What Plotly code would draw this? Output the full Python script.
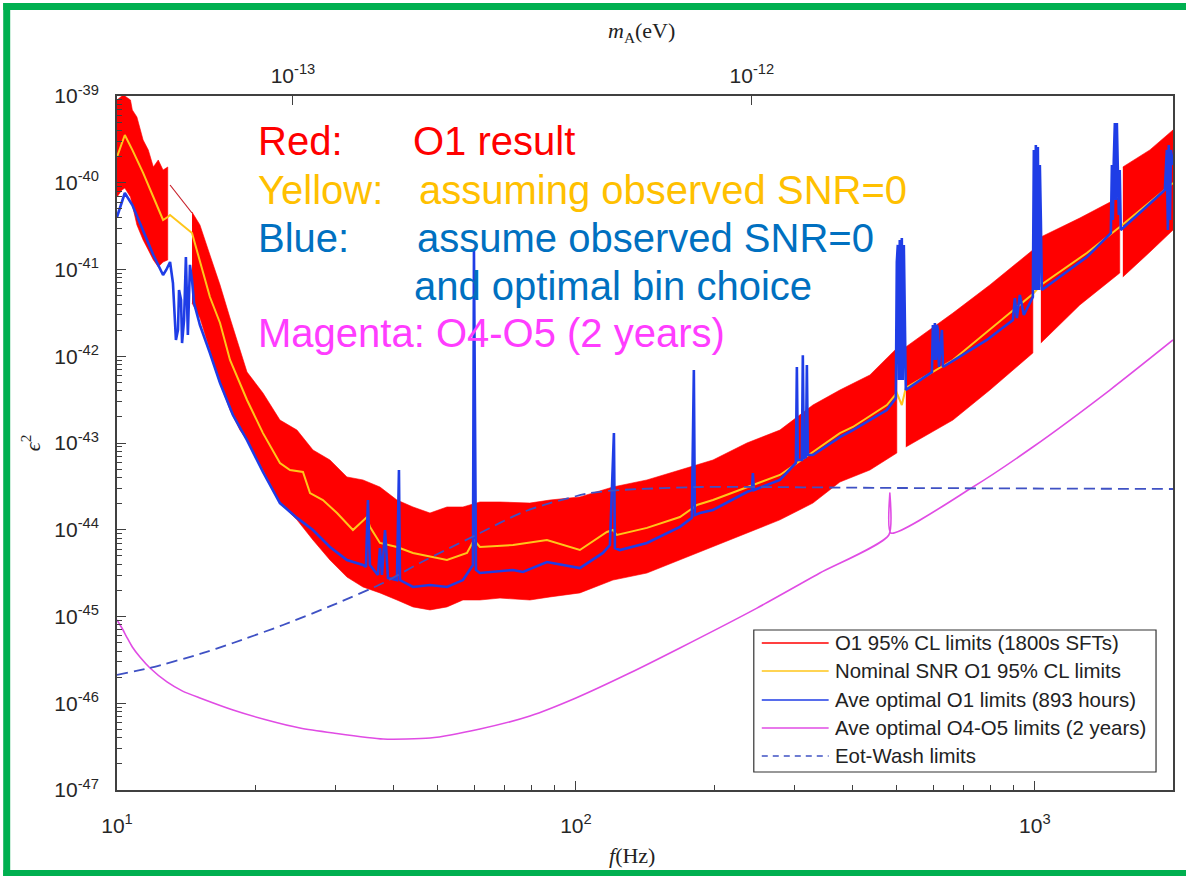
import math
import plotly.graph_objects as go

# ---------------- data ----------------
# Red band: O1 95% CL limits (1800s SFTs) - upper / lower envelope, None separates data segments
red_f = [10.0, 10.25, 10.4, 10.7, 10.8, 11.05, 11.4, 11.7, 12.0, 12.3, 12.6, 12.9, None,
         14.57, 15.16, 15.94, 16.77, 17.63, 18.53, 19.20, 20.80, 22.65, 24.67, 26.73, 29.11,
         31.70, 34.35, 37.41, 40.74, 44.15, 48.08, 52.36, 56.74, 61.78, 68.31, 79.37, 87.78,
         102.0, 120.4, 142.8, 168.5, 198.9, 235.8, 278.3, 328.4, 376.0, 437.1, 500.3, None,
         523.4, 663.0, 797.9, 990.0, None,
         1030.6, 1253, 1531, None,
         1555, 1781, 2000]
red_upper = [9.0e-40, 1.0e-39, 1.0e-39, 9.0e-40, 6.9e-40, 5.73e-40, 3.11e-40, 2.39e-40, 1.52e-40, 1.83e-40, 1.40e-40, 1.52e-40, None,
             4.60e-41, 3.26e-41, 1.47e-41, 6.63e-42, 2.76e-42, 1.24e-42, 6.58e-43, 3.77e-43, 1.84e-43, 1.41e-43, 8.31e-44, 6.37e-44,
             4.06e-44, 3.75e-44, 3.11e-44, 2.20e-44, 1.83e-44, 1.56e-44, 1.83e-44, 1.83e-44, 2.09e-44, 2.09e-44, 2.03e-44, 2.20e-44,
             2.39e-44, 3.11e-44, 3.75e-44, 4.88e-44, 6.37e-44, 1.0e-43, 1.41e-43, 2.74e-43, 4.08e-43, 6.08e-43, 1.24e-42, None,
             1.28e-42, 3.15e-42, 6.63e-42, 1.68e-41, None,
             2.37e-41, 3.92e-41, 6.85e-41, None,
             1.52e-40, 2.39e-40, 4.06e-40]
red_lower = [6.85e-41, 8.25e-41, 8.70e-41, 6.85e-41, 5.25e-41, 3.26e-41, 2.19e-41, 1.68e-41, 1.29e-41, 1.07e-41, 1.22e-41, 1.29e-41, None,
             4.11e-42, 2.76e-42, 1.18e-42, 4.92e-43, 2.40e-43, 1.41e-43, 1.08e-43, 4.88e-44, 2.03e-44, 1.30e-44, 7.62e-45, 4.48e-45,
             2.85e-45, 2.19e-45, 1.87e-45, 1.55e-45, 1.29e-45, 1.19e-45, 1.29e-45, 1.55e-45, 1.55e-45, 1.63e-45, 1.55e-45, 1.68e-45,
             1.87e-45, 2.63e-45, 3.17e-45, 4.48e-45, 6.33e-45, 9.17e-45, 1.30e-44, 2.03e-44, 3.55e-44, 4.88e-44, 7.67e-44, None,
             8.99e-44, 1.84e-43, 4.08e-43, 1.09e-42, None,
             1.42e-42, 3.90e-42, 9.11e-42, None,
             8.20e-42, 1.59e-41, 2.85e-41]
# thin red line bridging the 13-14.6 Hz data gap
red_bridge_f = [13.05, 14.57]
red_bridge_v = [9.42e-41, 4.48e-41]

# Yellow: Nominal SNR O1 95% CL limits
yellow_f = [10.0, 10.4, 10.8, 11.4, 12.0, 12.6, 12.9, 13.05, 14.57, 15.16, 15.94, 16.77, 17.63, 19.20,
            20.80, 22.65, 23.82, 25.42, 26.34, 28.1, 30.16, 32.67, 35.04, 35.57, 37.41, 40.74, 44.15,
            52.36, 57.89, 59.95, 61.78, 72.92, 86.46, 102.0, 116.8, 120.4, 122.8, 142.8, 168.5, 179.8,
            183.5, 198.9, 235.8, 278.3, 328.4, 376.0, 401.3, 475.9, 500.3, 513.0, 523.4, 663.0, 990.0,
            1030.6, 1298, 1531, 2000]
yellow_v = [1.98e-40, 3.55e-40, 2.39e-40, 1.30e-40, 6.85e-41, 3.72e-41, 4.03e-41, 4.25e-41, 2.63e-41, 1.22e-41,
            4.82e-42, 2.42e-42, 9.05e-43, 3.13e-43, 1.30e-43, 5.88e-44, 4.88e-44, 4.63e-44, 2.65e-44, 2.20e-44,
            1.56e-44, 9.93e-45, 1.40e-44, 1.08e-44, 7.04e-45, 6.33e-45, 5.40e-45, 4.48e-45, 5.40e-45, 7.62e-45,
            6.33e-45, 6.67e-45, 7.62e-45, 5.84e-45, 9.42e-45, 9.93e-45, 8.70e-45, 1.05e-44, 1.40e-44, 1.78e-44,
            1.93e-44, 2.20e-44, 3.11e-44, 4.28e-44, 7.88e-44, 1.30e-43, 1.53e-43, 2.74e-43, 3.77e-43, 2.74e-43,
            4.31e-43, 9.05e-43, 5.22e-42, 6.63e-42, 1.55e-41, 3.09e-41, 9.93e-41]

# Blue: Ave optimal O1 limits (893 hours) - (frequency Hz, eps^2)
blue_points = [
    (10.0, 4.03e-41), (10.4, 7.62e-41), (10.8, 5.54e-41), (11.4, 2.85e-41), (12.0, 1.47e-41),
    (12.6, 8.64e-42), (12.8, 9.87e-42), (13.05, 1.22e-41), (13.24, 6.99e-42), (13.44, 1.54e-42),
    (13.58, 2.01e-42), (13.65, 5.80e-42), (13.79, 4.45e-42), (13.86, 1.42e-42), (14.0, 2.62e-42),
    (14.13, 1.39e-41), (14.2, 5.80e-42), (14.27, 1.76e-42), (14.42, 1.13e-41), (14.57, 7.57e-42),
    (14.72, 4.11e-42), (15.16, 2.29e-42), (15.94, 1.09e-42), (16.77, 4.92e-43), (17.89, 2.10e-43),
    (19.20, 1.08e-43), (20.80, 4.63e-44), (22.65, 2.03e-44), (24.67, 1.37e-44), (26.73, 9.93e-45),
    (29.11, 6.33e-45), (31.70, 4.48e-45), (34.35, 3.92e-45), (34.87, 3.72e-45), (35.22, 2.20e-44),
    (35.57, 3.92e-45), (37.03, 3.01e-45), (37.41, 6.16e-45), (37.79, 3.01e-45), (38.37, 9.93e-45),
    (38.95, 2.78e-45), (40.74, 2.63e-45), (41.15, 4.88e-44), (41.36, 2.63e-45), (44.15, 2.19e-45),
    (48.08, 2.31e-45), (52.36, 2.19e-45), (56.74, 2.63e-45), (59.65, 3.92e-45), (59.95, 1.68e-41),
    (60.56, 3.44e-45), (61.78, 3.17e-45), (72.92, 3.44e-45), (76.66, 3.26e-45), (86.46, 4.25e-45),
    (102.0, 3.62e-45), (114.5, 5.40e-45), (118.6, 6.67e-45), (121.0, 1.30e-43), (121.6, 6.16e-45),
    (124.7, 5.84e-45), (142.8, 7.04e-45), (168.5, 1.08e-44), (178.9, 1.37e-44), (180.7, 6.94e-43),
    (181.6, 1.48e-44), (186.3, 1.56e-44), (198.9, 1.69e-44), (235.8, 2.72e-44), (241.8, 2.87e-44),
    (243.0, 4.51e-44), (244.2, 2.87e-44), (278.3, 3.75e-44), (301.5, 5.88e-44), (303.0, 7.52e-43),
    (304.5, 6.37e-44), (310.7, 6.37e-44), (312.2, 1.03e-42), (313.8, 6.71e-44), (317.0, 6.90e-44),
    (318.6, 7.93e-43), (320.2, 7.27e-44), (328.4, 7.27e-44), (376.0, 1.17e-43), (401.3, 1.41e-43),
    (475.9, 2.40e-43), (497.8, 3.30e-43),
    (500.3, 1.22e-41), (502.8, 1.92e-41), (505.3, 5.32e-43), (507.8, 2.19e-41), (510.4, 5.32e-43),
    (513.0, 2.31e-41), (515.6, 5.32e-43), (518.2, 1.92e-41), (520.8, 4.69e-42), (523.4, 4.08e-43),
    (596.6, 6.58e-43), (599.6, 2.29e-42), (602.6, 9.05e-43), (605.6, 2.42e-42), (608.7, 9.05e-43),
    (611.8, 2.29e-42), (614.9, 2.01e-42), (618.0, 7.52e-43), (627.4, 2.01e-42), (630.6, 7.52e-43),
    (786.0, 1.54e-42), (895.6, 2.62e-42), (904.6, 4.69e-42), (913.7, 2.76e-42), (927.5, 5.08e-42),
    (946.3, 2.99e-42), (990.0, 4.82e-42),
    (995.0, 2.39e-40), (1000, 5.80e-42), (1005.0, 2.72e-40), (1010.1, 5.80e-42), (1015.2, 2.58e-40),
    (1020.3, 5.80e-42), (1025.4, 1.60e-40), (1030.6, 3.72e-41), (1035.8, 5.80e-42), (1298, 1.39e-41),
    (1457, 2.50e-41), (1464, 2.63e-41), (1472, 1.60e-40), (1479, 3.72e-41), (1486, 1.83e-40),
    (1494, 4.88e-40), (1501, 6.33e-41), (1509, 4.88e-40), (1516, 1.52e-40), (1524, 4.25e-41),
    (1531, 1.40e-40), (1539, 2.85e-41), (1920, 8.25e-41),
    (1939, 2.39e-40), (1949, 2.85e-41), (1958, 2.72e-40), (1969, 3.72e-41), (1979, 2.39e-40),
    (2000, 1.60e-40)]

# Magenta: Ave optimal O4-O5 limits (2 years)
magenta_f = [10.0, 10.25, 10.5, 10.8, 11.22, 11.8, 12.85, 13.9, 15.16, 17.9, 21.2, 25.04, 29.6, 38.0,
             48.1, 61.8, 79.4, 100, 131, 168.5, 248, 340, 480.7, 483.1, 485.5, 733, 990, 1457, 2000]
magenta_v = [9.11e-46, 7.37e-46, 5.80e-46, 4.45e-46, 3.41e-46, 2.55e-46, 1.76e-46, 1.38e-46, 1.15e-46,
             8.36e-47, 6.41e-47, 5.18e-47, 4.54e-47, 3.87e-47, 3.97e-47, 5.05e-47, 7.13e-47, 1.15e-46,
             2.23e-46, 4.34e-46, 1.25e-45, 3.17e-45, 8.70e-45, 2.65e-44, 9.17e-45, 3.11e-44, 8.99e-44,
             4.08e-43, 1.54e-42]

# Dashed: Eot-Wash limits
eot_f = [10.0, 11.8, 15.16, 17.9, 23.0, 29.6, 38.0, 45.7, 61.8, 68.3, 76.7, 87.8, 107.3, 124.7, 186.3,
         502.8, 2000]
eot_v = [2.12e-46, 2.55e-46, 3.70e-46, 4.95e-46, 7.98e-46, 1.36e-45, 2.43e-45, 4.14e-45, 9.17e-45,
         1.20e-44, 1.60e-44, 2.03e-44, 2.65e-44, 2.87e-44, 3.11e-44, 3.03e-44, 2.95e-44]

# Axes / ticks
x_range_hz = [10, 2000]
x_tick_exp = [1, 2, 3]
y_tick_exp = [-47, -46, -45, -44, -43, -42, -41, -40, -39]
top_tick_exp = [-13, -12]
H_EV = 4.135667e-15  # eV per Hz  (m_A = h f)

legend_labels = ["O1 95% CL limits (1800s SFTs)", "Nominal SNR O1 95% CL limits",
                 "Ave optimal O1 limits (893 hours)", "Ave optimal O4-O5 limits (2 years)",
                 "Eot-Wash limits"]

# ---------------- styling ----------------
W_FIG, H_FIG = 1186, 876
ML, MR, MT, MB = 117, 11, 96, 86
PW = W_FIG - ML - MR
PH = H_FIG - MT - MB

def px(x):
    return (x - ML) / PW

def py(y):
    return (H_FIG - MB - y) / PH

C_RED = "#ff0000"
C_YEL = "#ffc61a"
C_BLUE = "#1f3de6"
C_MAG = "#e04ce4"
C_EOT = "#3f51c4"
AX = "#404040"
SANS = "Liberation Sans, Arial, Helvetica, sans-serif"
SERIF = "Liberation Serif, Times New Roman, DejaVu Serif, serif"

# ---------------- build traces ----------------
def split_segments(xs, ys_list):
    segs, cur = [], []
    for i, x in enumerate(xs):
        if x is None:
            if cur:
                segs.append(cur)
            cur = []
        else:
            cur.append([x] + [ys[i] for ys in ys_list])
    if cur:
        segs.append(cur)
    return segs

poly_x, poly_y = [], []
for seg in split_segments(red_f, [red_upper, red_lower]):
    fs = [p[0] for p in seg]
    up = [p[1] for p in seg]
    lo = [p[2] for p in seg]
    poly_x += fs + fs[::-1] + [None]
    poly_y += up + lo[::-1] + [None]

fig = go.Figure()
fig.add_trace(go.Scatter(x=poly_x, y=poly_y, mode="lines", fill="toself", fillcolor=C_RED,
                         line=dict(color=C_RED, width=0.6), hoverinfo="skip", showlegend=False))
fig.add_trace(go.Scatter(x=red_bridge_f, y=red_bridge_v, mode="lines",
                         line=dict(color="#c8202a", width=1.2), hoverinfo="skip", showlegend=False))
fig.add_trace(go.Scatter(x=yellow_f, y=yellow_v, mode="lines",
                         line=dict(color=C_YEL, width=2), showlegend=False))
fig.add_trace(go.Scatter(x=[p[0] for p in blue_points], y=[p[1] for p in blue_points], mode="lines",
                         line=dict(color=C_BLUE, width=2.6), showlegend=False))
fig.add_trace(go.Scatter(x=magenta_f, y=magenta_v, mode="lines", line_shape="spline",
                         line=dict(color=C_MAG, width=1.6, smoothing=0.6), showlegend=False))
fig.add_trace(go.Scatter(x=eot_f, y=eot_v, mode="lines", line_shape="spline",
                         line=dict(color=C_EOT, width=1.8, dash="11px,6px", smoothing=0.6), showlegend=False))
# invisible trace that carries the top (mass) axis
fig.add_trace(go.Scatter(x=[f * H_EV for f in x_range_hz], y=[1e-47, 1e-47], xaxis="x2",
                         mode="markers", marker=dict(opacity=0), hoverinfo="skip", showlegend=False))

tickfont = dict(family=SANS, size=21, color="#262626")
x_minor = [m * 10 ** e for e in (1, 2) for m in range(2, 10)] + [2000]
y_minor = [m * 10.0 ** e for e in range(-47, -39) for m in range(2, 10)]

fig.update_layout(
    width=W_FIG, height=H_FIG,
    margin=dict(l=ML, r=MR, t=MT, b=MB),
    paper_bgcolor="white", plot_bgcolor="white",
    showlegend=False,
    xaxis=dict(type="log", range=[math.log10(x_range_hz[0]), math.log10(x_range_hz[1])],
               tickmode="array", tickvals=[10 ** e for e in x_tick_exp],
               ticktext=[f"10<sup>{e}</sup>" for e in x_tick_exp],
               ticks="inside", ticklen=9, tickwidth=1.2, tickcolor=AX,
               showline=True, linecolor=AX, linewidth=1.6, mirror=True,
               showgrid=False, zeroline=False, tickfont=tickfont, ticklabelstandoff=16,
               minor=dict(tickvals=x_minor, ticks="inside", ticklen=5, tickwidth=1, tickcolor=AX, showgrid=False)),
    xaxis2=dict(type="log", overlaying="x", side="top", anchor="y",
                range=[math.log10(x_range_hz[0] * H_EV), math.log10(x_range_hz[1] * H_EV)],
                tickmode="array", tickvals=[10.0 ** e for e in top_tick_exp],
                ticktext=[f"10<sup>{e}</sup>" for e in top_tick_exp],
                ticks="inside", ticklen=9, tickwidth=1.2, tickcolor=AX,
                showline=False, showgrid=False, zeroline=False, tickfont=tickfont, ticklabelstandoff=8),
    yaxis=dict(type="log", range=[-47, -39],
               tickmode="array", tickvals=[10.0 ** e for e in y_tick_exp],
               ticktext=[f"10<sup>{e}</sup>" for e in y_tick_exp],
               ticks="inside", ticklen=9, tickwidth=1.2, tickcolor=AX,
               showline=True, linecolor=AX, linewidth=1.8, mirror=True,
               showgrid=False, zeroline=False, tickfont=tickfont, ticklabelstandoff=12,
               minor=dict(tickvals=y_minor, ticks="inside", ticklen=5, tickwidth=1, tickcolor=AX, showgrid=False)),
)

annotations = []
# axis titles
annotations.append(dict(text="<i>m</i><sub>A</sub>(eV)", x=px(642), y=py(32), xref="paper", yref="paper",
                        showarrow=False, xanchor="center", yanchor="middle",
                        font=dict(family=SERIF, size=22, color="#222")))
annotations.append(dict(text="<i>f</i>(Hz)", x=px(633), y=py(855), xref="paper", yref="paper",
                        showarrow=False, xanchor="center", yanchor="middle",
                        font=dict(family=SERIF, size=22, color="#222")))
annotations.append(dict(text="<i>\u03f5</i><sup>2</sup>", x=px(31), y=py(443), xref="paper", yref="paper",
                        showarrow=False, xanchor="center", yanchor="middle", textangle=-90,
                        font=dict(family=SERIF, size=22, color="#222")))

# coloured explanation text
BIG = 40
text_rows = [("Red:", 257, 141, "#ff0000"), ("O1 result", 413, 141, "#ff0000"),
             ("Yellow:", 257, 190, "#ffc000"), ("assuming observed SNR=0", 419, 190, "#ffc000"),
             ("Blue:", 257, 238, "#0070c0"), ("assume observed SNR=0", 417, 238, "#0070c0"),
             ("and optimal bin choice", 414, 286, "#0070c0"),
             ("Magenta: O4-O5 (2 years)", 257, 333, "#ff3dff")]
for t, x, y, c in text_rows:
    annotations.append(dict(text=t, x=px(x), y=py(y), xref="paper", yref="paper", showarrow=False,
                            xanchor="left", yanchor="middle", borderpad=0,
                            font=dict(family=SANS, size=BIG, color=c)))

# manual legend
leg_colors = [C_RED, C_YEL, C_BLUE, C_MAG, C_EOT]
leg_dash = ["solid", "solid", "solid", "solid", "6px,5px"]
leg_rows = [643, 671, 700, 728, 756]
shapes = []
shapes.append(dict(type="rect", xref="paper", yref="paper", x0=px(755), x1=px(1158), y0=py(772), y1=py(630),
                   line=dict(color="#333", width=1.2), fillcolor="white", layer="above"))
for lab, col, dsh, yy in zip(legend_labels, leg_colors, leg_dash, leg_rows):
    shapes.append(dict(type="line", xref="paper", yref="paper", x0=px(763), x1=px(830), y0=py(yy), y1=py(yy),
                       line=dict(color=col, width=1.3, dash=dsh), layer="above"))
    annotations.append(dict(text=lab, x=px(835), y=py(yy), xref="paper", yref="paper", showarrow=False,
                            xanchor="left", yanchor="middle", borderpad=0,
                            font=dict(family=SANS, size=20.4, color="#222")))

# green frame around the picture
GREEN = "#00b050"
shapes.append(dict(type="rect", xref="paper", yref="paper", x0=px(3), x1=px(10), y0=py(876), y1=py(3),
                   line=dict(width=0), fillcolor=GREEN, layer="above"))
shapes.append(dict(type="rect", xref="paper", yref="paper", x0=px(3), x1=px(1190), y0=py(10), y1=py(3),
                   line=dict(width=0), fillcolor=GREEN, layer="above"))
shapes.append(dict(type="rect", xref="paper", yref="paper", x0=px(3), x1=px(1190), y0=py(880), y1=py(870),
                   line=dict(width=0), fillcolor=GREEN, layer="above"))

fig.update_layout(annotations=annotations, shapes=shapes)
fig.write_html("out.html")
